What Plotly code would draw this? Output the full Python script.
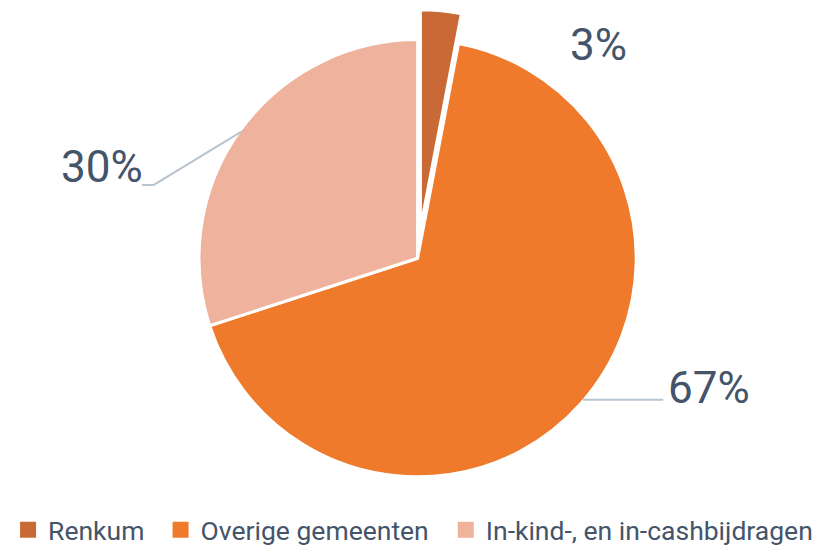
import math
import plotly.graph_objects as go

labels = ["Renkum", "Overige gemeenten", "In-kind-, en in-cashbijdragen"]
values = [3, 67, 30]
pulls = [0.137, 0, 0]
colors = ["#c96a36", "#ef7a2b", "#efb29c"]

W, H = 825, 546
dom_x = [0.1870, 0.7961]
dom_y = [0.0764, 0.9969]

fig = go.Figure(go.Pie(
    labels=labels, values=values, sort=False, direction="clockwise", rotation=0,
    pull=pulls, textinfo="none", hoverinfo="label+percent", showlegend=False,
    marker=dict(colors=colors, line=dict(color="white", width=3)),
    domain=dict(x=dom_x, y=dom_y),
))

# legend entries (square swatches), one legend per entry for spacing
legend_ids = ["legend", "legend2", "legend3"]
legend_text_x = [45, 199, 487]
for lab, col, lid in zip(labels, colors, legend_ids):
    fig.add_trace(go.Scatter(x=[None], y=[None], mode="markers", name=lab,
                             marker=dict(symbol="square", size=17, color=col),
                             hoverinfo="skip", legend=lid))

# geometry of the pie (pixels)
r = 218
cx = W * (dom_x[0] + dom_x[1]) / 2 + 2.5
cy = H * (1 - (dom_y[0] + dom_y[1]) / 2)

def px(x, y):
    return x / W, 1 - y / H

total = sum(values)
cum = 0
mids = []
for v in values:
    mids.append((cum + v / 2) / total * 2 * math.pi)
    cum += v

def edge(i):
    a = mids[i]
    off = pulls[i] * r
    return (cx + (r + off) * math.sin(a), cy - (r + off) * math.cos(a))

txtfont = dict(family="Roboto", size=44, color="#44546a")
linecol = "#b8c4d0"
pct = [f"{round(v / total * 100)}%" for v in values]

# Renkum label (no leader line)
ex, ey = edge(0)
x, y = px(ex + 157, ey + 31)
fig.add_annotation(x=x, y=y, xref="paper", yref="paper", text=pct[0], showarrow=False,
                   font=txtfont, xanchor="center", yanchor="middle")

# Overige label
ex, ey = edge(1)
x0, y0 = px(ex + 1, ey - 1)
x1, y1 = px(ex + 82, ey - 1)
fig.add_shape(type="line", xref="paper", yref="paper", x0=x0, y0=y0, x1=x1, y1=y1,
              line=dict(color=linecol, width=2))
x, y = px(ex + 85, ey - 13)
fig.add_annotation(x=x, y=y, xref="paper", yref="paper", text=pct[1], showarrow=False,
                   font=txtfont, xanchor="left", yanchor="middle")

# In-kind label
ex, ey = edge(2)
x0, y0 = px(ex - 3.6, ey)
x1, y1 = px(ex - 92.6, ey + 54)
x2, y2 = px(ex - 104.6, ey + 54)
fig.add_shape(type="path", xref="paper", yref="paper",
              path=f"M {x0} {y0} L {x1} {y1} L {x2} {y2}",
              line=dict(color=linecol, width=2))
x, y = px(ex - 101.6, ey + 36)
fig.add_annotation(x=x, y=y, xref="paper", yref="paper", text=pct[2], showarrow=False,
                   font=txtfont, xanchor="right", yanchor="middle")

legend_common = dict(orientation="h", yanchor="bottom", y=-0.012, xanchor="left",
                     font=dict(family="Roboto", size=26.5, color="#44546a"),
                     itemclick=False, itemdoubleclick=False, bgcolor="rgba(0,0,0,0)")
layout_legends = {lid: dict(legend_common, x=(tx - 53) / W)
                  for lid, tx in zip(legend_ids, legend_text_x)}

fig.update_layout(
    width=W, height=H, margin=dict(l=0, r=0, t=0, b=0),
    paper_bgcolor="white", plot_bgcolor="white",
    xaxis=dict(visible=False), yaxis=dict(visible=False),
    showlegend=True,
    **layout_legends,
)

fig.write_html("out.html")
